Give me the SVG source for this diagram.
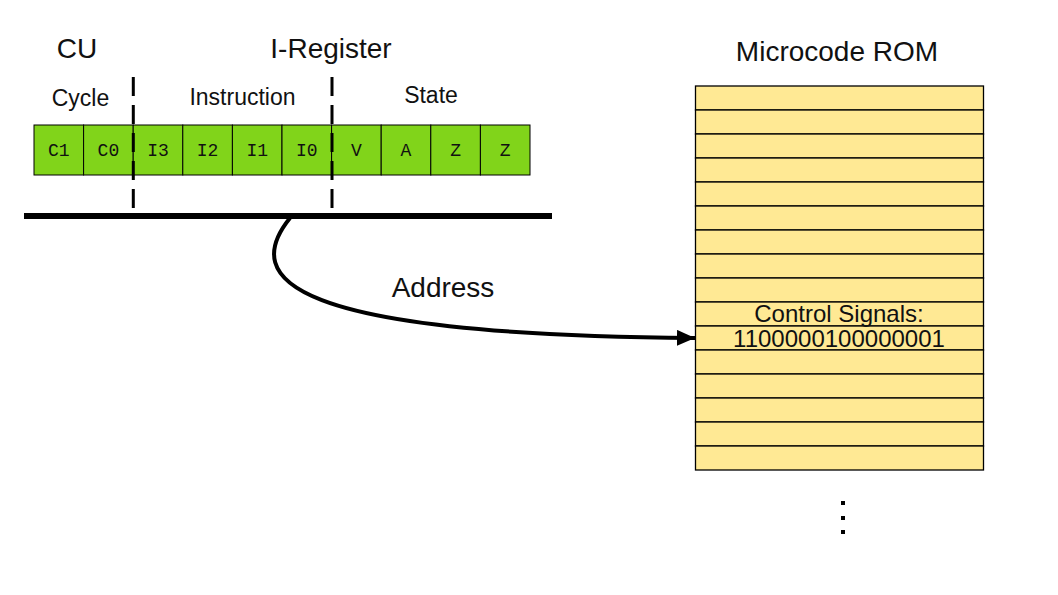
<svg xmlns="http://www.w3.org/2000/svg" width="1058" height="595" viewBox="0 0 1058 595">
<defs>
<style>
.t{font-family:"Liberation Sans",Arial,sans-serif;fill:#111;text-anchor:middle}
.big{font-size:28px}
.mid{font-size:23px}
.cell rect{fill:#81d41a;stroke:#000;stroke-width:1}
.cell text{font-family:"Liberation Mono","Courier New",monospace;font-size:18px;fill:#111;text-anchor:middle}
.row{fill:#ffe994;stroke:#000;stroke-width:1.3}
.dash{stroke:#000;stroke-width:3;stroke-dasharray:19 9;fill:none}
</style>
<marker id="arr" markerWidth="18" markerHeight="16" refX="18" refY="8" orient="auto" markerUnits="userSpaceOnUse">
<path d="M0,0 L18,8 L0,16 Z" fill="#000"/>
</marker>
</defs>
<rect width="1058" height="595" fill="#fff"/>

<g id="titles">
<text class="t big" x="77" y="58">CU</text>
<text class="t big" x="331" y="58">I-Register</text>
<text class="t big" x="837" y="61">Microcode ROM</text>
<text class="t mid" x="80.5" y="106">Cycle</text>
<text class="t mid" x="242.5" y="105">Instruction</text>
<text class="t mid" x="431" y="103">State</text>
</g>

<g id="register" class="cell">
<rect x="34" y="125" width="49.6" height="50"/><text x="58.8" y="156">C1</text>
<rect x="83.6" y="125" width="49.6" height="50"/><text x="108.4" y="156">C0</text>
<rect x="133.2" y="125" width="49.6" height="50"/><text x="158" y="156">I3</text>
<rect x="182.8" y="125" width="49.6" height="50"/><text x="207.6" y="156">I2</text>
<rect x="232.4" y="125" width="49.6" height="50"/><text x="257.2" y="156">I1</text>
<rect x="282" y="125" width="49.6" height="50"/><text x="306.8" y="156">I0</text>
<rect x="331.6" y="125" width="49.6" height="50"/><text x="356.4" y="156">V</text>
<rect x="381.2" y="125" width="49.6" height="50"/><text x="406" y="156">A</text>
<rect x="430.8" y="125" width="49.6" height="50"/><text x="455.6" y="156">Z</text>
<rect x="480.4" y="125" width="49.6" height="50"/><text x="505.2" y="156">Z</text>
</g>

<g id="separators">
<line class="dash" x1="133.3" y1="77" x2="133.3" y2="208"/>
<line class="dash" x1="332" y1="77" x2="332" y2="208"/>
</g>

<g id="bus">
<line x1="24" y1="216" x2="552" y2="216" stroke="#000" stroke-width="6"/>
</g>

<g id="rom">
<rect class="row" x="695.5" y="86" width="288" height="24"/>
<rect class="row" x="695.5" y="110" width="288" height="24"/>
<rect class="row" x="695.5" y="134" width="288" height="24"/>
<rect class="row" x="695.5" y="158" width="288" height="24"/>
<rect class="row" x="695.5" y="182" width="288" height="24"/>
<rect class="row" x="695.5" y="206" width="288" height="24"/>
<rect class="row" x="695.5" y="230" width="288" height="24"/>
<rect class="row" x="695.5" y="254" width="288" height="24"/>
<rect class="row" x="695.5" y="278" width="288" height="24"/>
<rect class="row" x="695.5" y="302" width="288" height="24"/>
<rect class="row" x="695.5" y="326" width="288" height="24"/>
<rect class="row" x="695.5" y="350" width="288" height="24"/>
<rect class="row" x="695.5" y="374" width="288" height="24"/>
<rect class="row" x="695.5" y="398" width="288" height="24"/>
<rect class="row" x="695.5" y="422" width="288" height="24"/>
<rect class="row" x="695.5" y="446" width="288" height="24"/>
<text class="t" style="font-size:24px" x="839" y="322">Control Signals:</text>
<text class="t" style="font-size:24px" x="839" y="347">1100000100000001</text>
</g>

<g id="ellipsis" fill="#000">
<rect x="841" y="501" width="4" height="4"/>
<rect x="841" y="516" width="4" height="4"/>
<rect x="841" y="530" width="4" height="4"/>
</g>

<g id="connectors">
<path d="M290,218 C240,280 290,335 695,338" fill="none" stroke="#000" stroke-width="4" marker-end="url(#arr)"/>
<text class="t big" x="443" y="297">Address</text>
</g>
</svg>
